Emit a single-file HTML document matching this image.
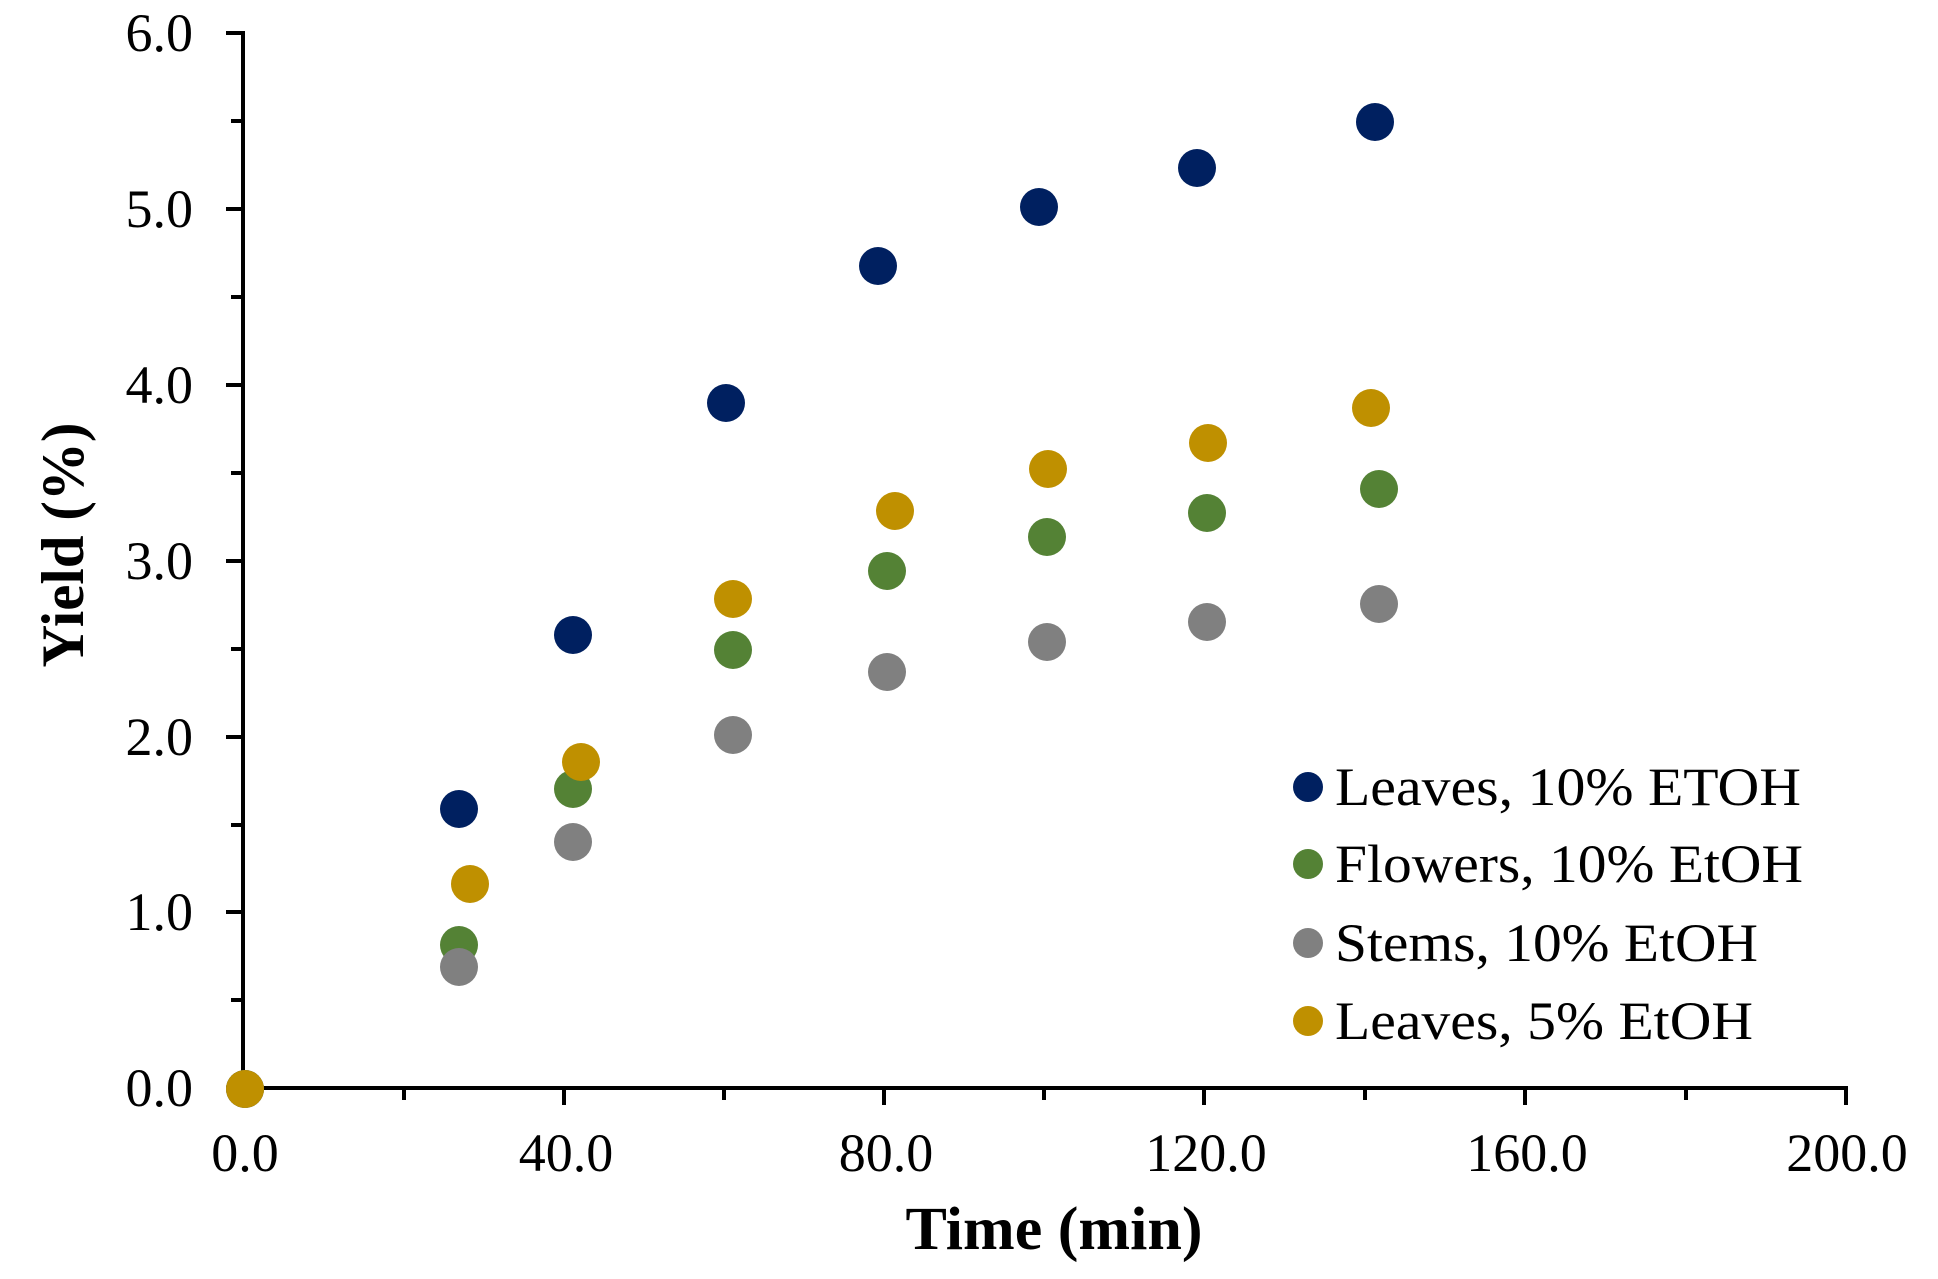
<!DOCTYPE html>
<html><head><meta charset="utf-8"><style>html,body{margin:0;padding:0;background:#fff}svg{display:block}</style></head>
<body>
<svg width="1938" height="1279" viewBox="0 0 1938 1279" xmlns="http://www.w3.org/2000/svg" font-family="'Liberation Serif', serif">
<rect width="1938" height="1279" fill="#fff"/>
<g stroke="#000" stroke-width="4" fill="none">
<line x1="243" y1="31" x2="243" y2="1090"/>
<line x1="241" y1="1088" x2="1847" y2="1088"/>
<line x1="226" y1="33" x2="243" y2="33"/>
<line x1="226" y1="209" x2="243" y2="209"/>
<line x1="226" y1="385" x2="243" y2="385"/>
<line x1="226" y1="561" x2="243" y2="561"/>
<line x1="226" y1="737" x2="243" y2="737"/>
<line x1="226" y1="912" x2="243" y2="912"/>
<line x1="226" y1="1088" x2="243" y2="1088"/>
<line x1="231" y1="121" x2="243" y2="121"/>
<line x1="231" y1="297" x2="243" y2="297"/>
<line x1="231" y1="473" x2="243" y2="473"/>
<line x1="231" y1="649" x2="243" y2="649"/>
<line x1="231" y1="825" x2="243" y2="825"/>
<line x1="231" y1="1000" x2="243" y2="1000"/>
<line x1="243" y1="1088" x2="243" y2="1105"/>
<line x1="564" y1="1088" x2="564" y2="1105"/>
<line x1="884" y1="1088" x2="884" y2="1105"/>
<line x1="1204" y1="1088" x2="1204" y2="1105"/>
<line x1="1525" y1="1088" x2="1525" y2="1105"/>
<line x1="1846" y1="1086" x2="1846" y2="1105"/>
<line x1="404" y1="1088" x2="404" y2="1100"/>
<line x1="724" y1="1088" x2="724" y2="1100"/>
<line x1="1044" y1="1088" x2="1044" y2="1100"/>
<line x1="1365" y1="1088" x2="1365" y2="1100"/>
<line x1="1686" y1="1088" x2="1686" y2="1100"/>
</g>
<g font-size="54" text-anchor="end" fill="#000">
<text x="193" y="51">6.0</text>
<text x="193" y="227">5.0</text>
<text x="193" y="403">4.0</text>
<text x="193" y="579">3.0</text>
<text x="193" y="755">2.0</text>
<text x="193" y="930">1.0</text>
<text x="193" y="1106">0.0</text>
</g>
<g font-size="54" text-anchor="middle" fill="#000">
<text x="245" y="1171">0.0</text>
<text x="566" y="1171">40.0</text>
<text x="886" y="1171">80.0</text>
<text x="1206" y="1171">120.0</text>
<text x="1527" y="1171">160.0</text>
<text x="1847" y="1171">200.0</text>
</g>
<text x="1054" y="1249" font-size="61" font-weight="bold" text-anchor="middle" textLength="297" lengthAdjust="spacingAndGlyphs">Time (min)</text>
<text transform="translate(83,545) rotate(-90)" font-size="60" font-weight="bold" text-anchor="middle" textLength="245" lengthAdjust="spacingAndGlyphs">Yield (%)</text>
<g fill="#002060">
<circle cx="245" cy="1089" r="19"/><circle cx="459" cy="809" r="19"/><circle cx="573" cy="635" r="19"/><circle cx="726" cy="403" r="19"/><circle cx="878" cy="266" r="19"/><circle cx="1039" cy="207" r="19"/><circle cx="1197" cy="168" r="19"/><circle cx="1375" cy="122" r="19"/>
</g>
<g fill="#548235">
<circle cx="245" cy="1089" r="19"/><circle cx="459" cy="945" r="19"/><circle cx="573" cy="789" r="19"/><circle cx="733" cy="650" r="19"/><circle cx="887" cy="571" r="19"/><circle cx="1047" cy="537" r="19"/><circle cx="1207" cy="513" r="19"/><circle cx="1379" cy="489" r="19"/>
</g>
<g fill="#808080">
<circle cx="245" cy="1089" r="19"/><circle cx="459" cy="967" r="19"/><circle cx="573" cy="842" r="19"/><circle cx="733" cy="735" r="19"/><circle cx="887" cy="672" r="19"/><circle cx="1047" cy="642" r="19"/><circle cx="1207" cy="622" r="19"/><circle cx="1379" cy="604" r="19"/>
</g>
<g fill="#BF9000">
<circle cx="245" cy="1089" r="19"/><circle cx="470" cy="884" r="19"/><circle cx="581" cy="762" r="19"/><circle cx="733" cy="599" r="19"/><circle cx="895" cy="511" r="19"/><circle cx="1048" cy="469" r="19"/><circle cx="1208" cy="443" r="19"/><circle cx="1371" cy="408" r="19"/>
</g>
<circle cx="1308" cy="787" r="15" fill="#002060"/>
<circle cx="1308" cy="864" r="15" fill="#548235"/>
<circle cx="1308" cy="943" r="15" fill="#808080"/>
<circle cx="1308" cy="1021" r="15" fill="#BF9000"/>
<g font-size="54" fill="#000">
<text x="1335" y="805" textLength="466" lengthAdjust="spacingAndGlyphs">Leaves, 10% ETOH</text>
<text x="1335" y="882" textLength="468" lengthAdjust="spacingAndGlyphs">Flowers, 10% EtOH</text>
<text x="1335" y="961" textLength="423" lengthAdjust="spacingAndGlyphs">Stems, 10% EtOH</text>
<text x="1335" y="1039" textLength="418" lengthAdjust="spacingAndGlyphs">Leaves, 5% EtOH</text>
</g>
</svg>
</body></html>
